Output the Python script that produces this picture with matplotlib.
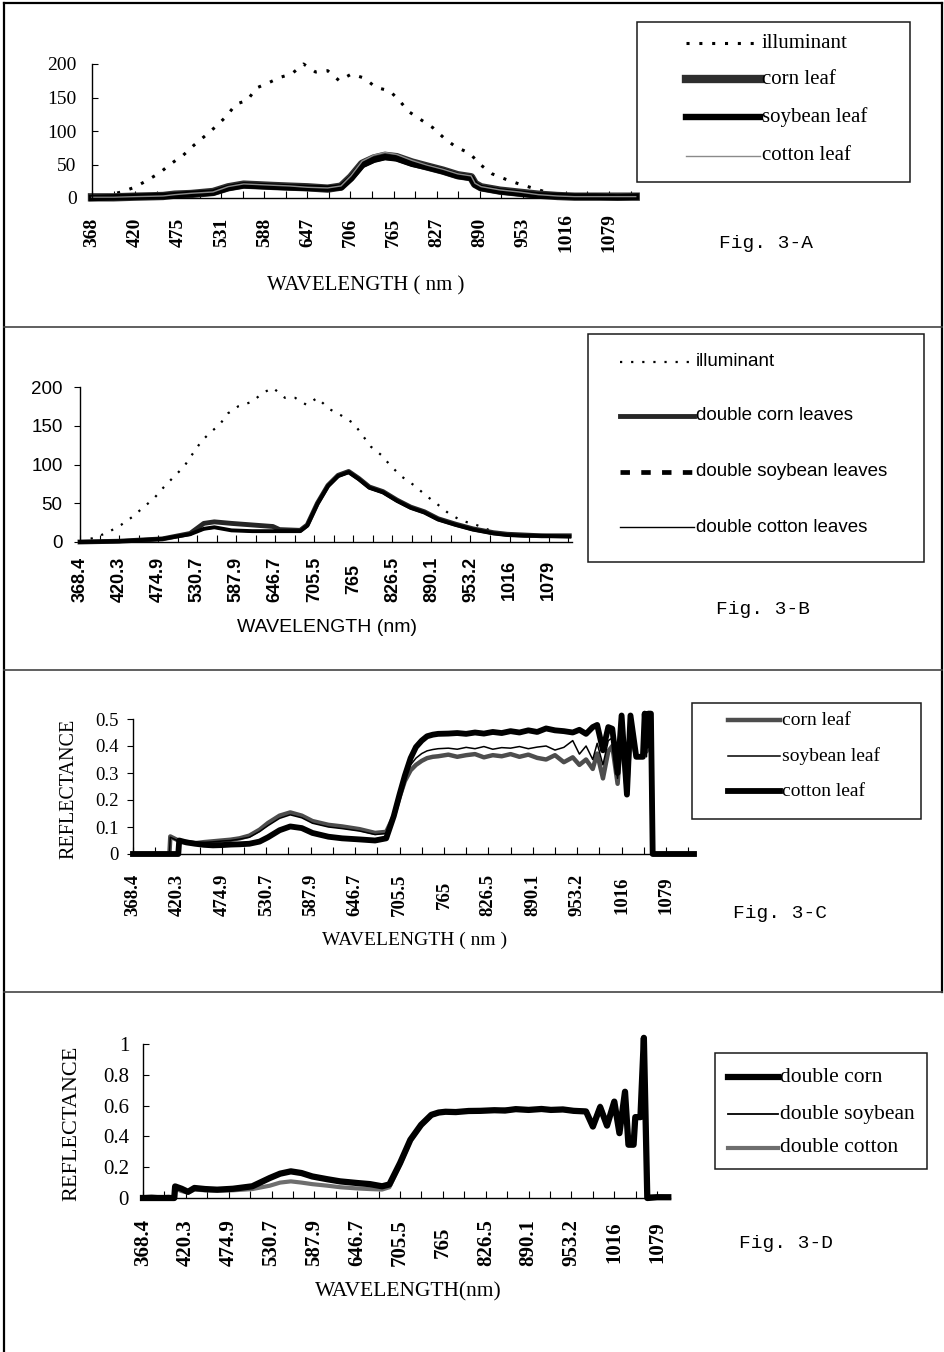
import numpy as np
import matplotlib
matplotlib.use('Agg')
import matplotlib.pyplot as plt
from matplotlib.lines import Line2D
from matplotlib.patches import Rectangle

# x values are positions on the category axis (1 unit = one labelled step)
labels_a = ['368', '420', '475', '531', '588', '647', '706', '765', '827', '890', '953', '1016', '1079']
labels_bcd = ['368.4', '420.3', '474.9', '530.7', '587.9', '646.7', '705.5', '765', '826.5', '890.1',
              '953.2', '1016', '1079']

# Fig. 3-A
a_x_illum = [0.0, 0.37, 0.68, 0.99, 1.30, 1.58, 1.83, 2.12, 2.37, 2.63, 2.88, 3.12, 3.34, 3.61, 3.81,
             4.10, 4.36, 4.63, 4.91, 5.19, 5.47, 5.74, 6.02, 6.32, 6.59, 6.91, 7.14, 7.35, 7.63, 7.91,
             8.18, 8.45, 8.76, 9.03, 9.29, 9.60, 9.91, 10.22, 10.53, 10.8]
a_illum = [0, 4, 9, 16, 27, 38, 51, 64, 79, 93, 107, 122, 140, 146, 164, 172, 180, 185, 200, 188,
           190, 175, 185, 179, 165, 160, 145, 129, 117, 105, 89, 76, 67, 49, 36, 28, 21, 15, 9, 5]
a_x = [0, 0.5, 1.0, 1.65, 1.92, 2.3, 2.81, 3.16, 3.52, 3.87, 4.2, 4.58, 5.0, 5.47, 5.78, 6.01, 6.27,
       6.54, 6.80, 7.07, 7.43, 7.78, 8.14, 8.49, 8.80, 8.89, 9.03, 9.47, 9.91, 10.36, 10.80, 11.2,
       11.69, 12.2, 12.62]
a_corn = [1, 1, 2, 3, 5, 6, 9, 16, 20, 19, 18, 17, 16, 14, 17, 31, 51, 59, 63, 61, 53, 47, 41, 34,
          31, 21, 16, 11, 8, 5, 3, 2, 2, 2, 2]
a_soy = [0, 1, 2, 3, 4, 6, 8, 15, 19, 18, 17, 16, 15, 14, 16, 29, 49, 57, 61, 59, 51, 46, 40, 33,
         30, 20, 15, 10, 7, 4, 3, 2, 2, 1, 2]
a_cotton = [1, 1, 2, 3, 5, 7, 9, 17, 21, 20, 19, 18, 16, 15, 18, 33, 55, 64, 68, 65, 56, 49, 43, 36,
            33, 22, 17, 12, 9, 5, 3, 2, 2, 2, 2]

# Fig. 3-B
b_x_illum = [0.0, 0.39, 0.70, 1.05, 1.33, 1.63, 1.89, 2.15, 2.42, 2.66, 2.86, 3.11, 3.35, 3.57, 3.79,
             4.05, 4.41, 4.67, 4.94, 5.25, 5.51, 5.80, 6.08, 6.37, 6.70, 7.01, 7.23, 7.45, 7.72, 7.98,
             8.25, 8.56, 8.86, 9.17, 9.44, 9.75, 10.15, 10.50, 10.85]
b_illum = [0, 6, 12, 22, 32, 45, 56, 71, 85, 97, 112, 130, 142, 151, 166, 175, 181, 192, 199, 186,
           186, 177, 186, 172, 163, 153, 138, 123, 112, 97, 84, 73, 60, 48, 37, 28, 22, 15, 11]
b_x = [0, 1.0, 2.11, 2.82, 3.17, 3.44, 3.88, 4.41, 4.94, 5.11, 5.64, 5.82, 6.08, 6.35, 6.61, 6.88,
       7.14, 7.41, 7.76, 8.12, 8.47, 8.82, 9.17, 9.62, 10.06, 10.59, 10.94, 11.38, 11.82, 12.53]
b_corn = [0, 1, 4, 11, 24, 26, 24, 22, 20, 16, 15, 22, 50, 73, 86, 91, 82, 71, 65, 54, 45, 39, 30,
          23, 17, 12, 10, 9, 8, 8]
b_soy = [0, 1, 4, 10, 17, 19, 15, 14, 14, 14, 14, 21, 49, 72, 85, 90, 81, 70, 64, 53, 44, 38, 29,
         22, 16, 11, 9, 8, 8, 7]
b_cotton = [0, 1, 4, 10, 16, 18, 15, 13, 13, 13, 14, 20, 48, 71, 84, 89, 80, 69, 63, 52, 44, 38, 29,
            22, 16, 11, 9, 8, 7, 7]

# Fig. 3-C
c_x = [0, 0.82, 0.84, 1.02, 1.04, 1.2, 1.4, 1.6, 1.8, 2.0, 2.2, 2.4, 2.62, 2.85, 3.04, 3.3, 3.54,
       3.8, 4.04, 4.4, 4.71, 5.1, 5.45, 5.7, 5.87, 6.0, 6.12, 6.25, 6.37, 6.5, 6.62, 6.75, 6.87, 7.1,
       7.3, 7.5, 7.7, 7.9, 8.1, 8.3, 8.5, 8.7, 8.9, 9.1, 9.3, 9.5, 9.7, 9.9, 10.05, 10.2, 10.35,
       10.45, 10.58, 10.7, 10.79, 10.91, 11.0, 11.12, 11.2, 11.33, 11.48, 11.52, 11.56, 11.6, 11.66,
       11.7, 12.63]
c_corn = [0, 0, 0.065, 0.05, 0.048, 0.045, 0.04, 0.044, 0.047, 0.05, 0.053, 0.058, 0.068, 0.09,
          0.115, 0.142, 0.154, 0.142, 0.122, 0.108, 0.102, 0.092, 0.078, 0.082, 0.14, 0.21, 0.27,
          0.31, 0.33, 0.345, 0.355, 0.36, 0.362, 0.368, 0.36, 0.366, 0.37, 0.358, 0.366, 0.362,
          0.37, 0.36, 0.368, 0.356, 0.35, 0.366, 0.34, 0.358, 0.33, 0.35, 0.315, 0.372, 0.28, 0.38,
          0.40, 0.26, 0.45, 0.23, 0.45, 0.36, 0.36, 0.5, 0.38, 0.5, 0.5, 0, 0]
c_soy = [0, 0, 0.062, 0.048, 0.047, 0.044, 0.042, 0.043, 0.045, 0.048, 0.05, 0.055, 0.062, 0.083,
         0.105, 0.132, 0.145, 0.134, 0.114, 0.1, 0.094, 0.085, 0.072, 0.076, 0.15, 0.22, 0.285,
         0.33, 0.355, 0.372, 0.382, 0.387, 0.39, 0.392, 0.388, 0.395, 0.39, 0.398, 0.388, 0.394,
         0.392, 0.398, 0.39, 0.396, 0.4, 0.385, 0.395, 0.42, 0.37, 0.4, 0.35, 0.41, 0.33, 0.42,
         0.43, 0.28, 0.48, 0.25, 0.48, 0.36, 0.36, 0.5, 0.36, 0.5, 0.5, 0, 0]
c_cotton = [0, 0, 0, 0, 0.05, 0.043, 0.038, 0.034, 0.032, 0.033, 0.035, 0.036, 0.038, 0.046,
            0.062, 0.088, 0.102, 0.096, 0.078, 0.064, 0.058, 0.054, 0.05, 0.058, 0.14, 0.22, 0.29,
            0.355, 0.396, 0.42, 0.436, 0.442, 0.445, 0.446, 0.448, 0.445, 0.45, 0.446, 0.452,
            0.448, 0.455, 0.45, 0.458, 0.452, 0.465, 0.458, 0.455, 0.45, 0.46, 0.445, 0.47, 0.478,
            0.384, 0.47, 0.464, 0.30, 0.513, 0.22, 0.513, 0.36, 0.36, 0.52, 0.4, 0.52, 0.52, 0, 0]

# Fig. 3-D
d_x = [0, 0.2, 0.4, 0.6, 0.73, 0.75, 0.9, 1.05, 1.2, 1.45, 1.73, 2.1, 2.55, 2.96, 3.2, 3.45, 3.7,
       3.95, 4.3, 4.6, 5.01, 5.3, 5.58, 5.75, 6.0, 6.24, 6.49, 6.73, 6.9, 7.06, 7.3, 7.6, 7.88, 8.2,
       8.45, 8.7, 9.0, 9.3, 9.52, 9.8, 10.05, 10.34, 10.5, 10.67, 10.83, 11.0, 11.12, 11.25, 11.33,
       11.45, 11.49, 11.61, 11.69, 11.77, 12.0, 12.26]
d_corn = [0, 0, 0, 0, 0, 0.075, 0.06, 0.04, 0.065, 0.058, 0.054, 0.06, 0.076, 0.13, 0.158, 0.173,
          0.162, 0.14, 0.122, 0.108, 0.097, 0.09, 0.076, 0.088, 0.227, 0.378, 0.475, 0.54, 0.555,
          0.56, 0.558, 0.565, 0.566, 0.57, 0.568, 0.577, 0.572, 0.578, 0.572, 0.575, 0.566, 0.562,
          0.464, 0.59, 0.47, 0.626, 0.421, 0.69, 0.346, 0.346, 0.525, 0.525, 1.04, 0, 0.005, 0.005]
d_soy = [0, 0, 0, 0, 0, 0.07, 0.055, 0.045, 0.06, 0.055, 0.052, 0.058, 0.072, 0.125, 0.152, 0.168,
         0.158, 0.136, 0.118, 0.104, 0.094, 0.087, 0.074, 0.085, 0.22, 0.37, 0.47, 0.535, 0.55,
         0.556, 0.553, 0.56, 0.562, 0.566, 0.563, 0.572, 0.568, 0.574, 0.566, 0.57, 0.56, 0.555,
         0.47, 0.58, 0.48, 0.61, 0.43, 0.67, 0.35, 0.35, 0.52, 0.52, 1.0, 0, 0.004, 0.004]
d_cotton = [0.005, 0.01, 0.004, 0.008, 0, 0.06, 0.045, 0.035, 0.055, 0.05, 0.048, 0.05, 0.058, 0.08,
            0.1, 0.108, 0.1, 0.09, 0.08, 0.07, 0.062, 0.058, 0.055, 0.07, 0.215, 0.37, 0.47, 0.535,
            0.552, 0.558, 0.56, 0.562, 0.57, 0.566, 0.574, 0.575, 0.57, 0.575, 0.57, 0.572, 0.57,
            0.565, 0.47, 0.6, 0.48, 0.62, 0.43, 0.68, 0.35, 0.35, 0.53, 0.53, 1.02, 0.01, 0.01, 0.005]

SERIF = 'Liberation Serif'
SANS = 'Liberation Sans'
MONO = 'Liberation Mono'

W, H = 944, 1352
fig = plt.figure(figsize=(W / 100, H / 100), dpi=100)


def fx(x):
    return x / W


def fy(y):
    return 1 - y / H


def add_axes(x0, y0, x1, y1):
    return fig.add_axes([fx(x0), fy(y1), (x1 - x0) / W, (y1 - y0) / H])


def style_axes(ax, xmax, ymax, yticks, ylabels, xlabels, fam, yfs, xfs, xpad, ypad, ydir):
    ax.set_xlim(0, xmax)
    ax.set_ylim(0, ymax)
    ax.spines['top'].set_visible(False)
    ax.spines['right'].set_visible(False)
    ax.spines['left'].set_linewidth(1.0)
    ax.spines['bottom'].set_linewidth(1.0)
    ax.set_xticks(range(len(xlabels)))
    ax.set_xticklabels(xlabels, rotation=90, va='center', family=fam, fontsize=xfs, fontweight='bold')
    ax.set_xticks(np.arange(0.5, xmax, 1.0), minor=True)
    ax.tick_params(axis='x', which='both', direction='in', length=5, width=0.8, pad=xpad)
    ax.set_yticks(yticks)
    ax.set_yticklabels(ylabels, family=fam, fontsize=yfs)
    ax.tick_params(axis='y', direction=ydir, length=4, width=0.8, pad=ypad)


def legend_box(x0, y0, x1, y1, rows, lx0, lx1, tx, fam, fs):
    fig.add_artist(Rectangle((fx(x0), fy(y1)), (x1 - x0) / W, (y1 - y0) / H,
                             transform=fig.transFigure, fill=False, ec='#1a1a1a', lw=1.1))
    for y, label, st in rows:
        fig.add_artist(Line2D([fx(lx0), fx(lx1)], [fy(y), fy(y)], transform=fig.transFigure, **st))
        fig.text(fx(tx), fy(y), label, ha='left', va='center', family=fam, fontsize=fs)


# line styles
A_illum = dict(color='black', lw=2.2, ls=(0, (1, 3.2)))
A_corn = dict(color='#2e2e2e', lw=6.0)
A_soy = dict(color='black', lw=4.6)
A_cot = dict(color='#8a8a8a', lw=1.0)
B_illum = dict(color='black', lw=1.6, ls=(0, (1, 4)))
B_corn = dict(color='#262626', lw=3.5)
B_soy = dict(color='black', lw=2.8)
B_soy_leg = dict(color='black', lw=3.4, ls=(0, (2, 2.4)))
B_cot = dict(color='black', lw=1.0)
C_corn = dict(color='#4d4d4d', lw=3.2)
C_soy = dict(color='black', lw=1.1)
C_cot = dict(color='black', lw=4.2)
D_corn = dict(color='black', lw=4.5)
D_soy = dict(color='black', lw=1.3)
D_cot = dict(color='#6e6e6e', lw=3.0)

# frame and dividers
frame = dict(color='black', lw=1.6, transform=fig.transFigure)
fig.add_artist(Line2D([fx(4), fx(4)], [fy(3), fy(1352)], **frame))
fig.add_artist(Line2D([fx(4), fx(942)], [fy(3), fy(3)], **frame))
fig.add_artist(Line2D([fx(942), fx(942)], [fy(3), fy(992)], **frame))
for yy in (327, 670, 992):
    fig.add_artist(Line2D([fx(4), fx(942)], [fy(yy), fy(yy)], color='#444444', lw=1.2,
                          transform=fig.transFigure))

# ---- Fig. 3-A ----
ax = add_axes(92, 64, 637, 198)
ax.plot(a_x_illum, a_illum, clip_on=False, **A_illum)
ax.plot(a_x, a_corn, clip_on=False, **A_corn)
ax.plot(a_x, a_soy, clip_on=False, **A_soy)
ax.plot(a_x, a_cotton, clip_on=False, **A_cot)
style_axes(ax, 12.65, 200, [0, 50, 100, 150, 200], ['0', '50', '100', '150', '200'], labels_a,
           SERIF, 14, 14, 25, 11, 'in')
fig.text(fx(366), fy(286), 'WAVELENGTH ( nm )', ha='center', va='center', family=SERIF, fontsize=15)
fig.text(fx(719), fy(244), 'Fig. 3-A', ha='left', va='center', family=MONO, fontsize=14)
legend_box(637, 22, 910, 182,
           [(43, 'illuminant', A_illum), (79, 'corn leaf', A_corn),
            (117, 'soybean leaf', A_soy), (156, 'cotton leaf', A_cot)],
           686, 760, 762, SERIF, 15)

# ---- Fig. 3-B ----
ax = add_axes(80, 387, 572, 542)
ax.plot(b_x_illum, b_illum, clip_on=False, **B_illum)
ax.plot(b_x, b_corn, clip_on=False, **B_corn)
ax.plot(b_x, b_soy, clip_on=False, **B_soy)
ax.plot(b_x, b_cotton, clip_on=False, **B_cot)
style_axes(ax, 12.6, 200, [0, 50, 100, 150, 200], ['0', '50', '100', '150', '200'], labels_bcd,
           SANS, 13.5, 13, 27, 8.5, 'out')
fig.text(fx(327), fy(627), 'WAVELENGTH (nm)', ha='center', va='center', family=SANS, fontsize=14)
fig.text(fx(716), fy(610), 'Fig. 3-B', ha='left', va='center', family=MONO, fontsize=14)
legend_box(588, 334, 924, 562,
           [(362, 'illuminant', B_illum), (416, 'double corn leaves', B_corn),
            (472, 'double soybean leaves', B_soy_leg), (527, 'double cotton leaves', B_cot)],
           620, 694, 696, SANS, 13.5)

# ---- Fig. 3-C ----
ax = add_axes(133, 719, 694, 854)
ax.plot(c_x, c_corn, clip_on=False, **C_corn)
ax.plot(c_x, c_soy, clip_on=False, **C_soy)
ax.plot(c_x, c_cotton, clip_on=False, **C_cot)
style_axes(ax, 12.63, 0.5, [0, 0.1, 0.2, 0.3, 0.4, 0.5], ['0', '0.1', '0.2', '0.3', '0.4', '0.5'],
           labels_bcd, SERIF, 13.5, 13.5, 29.5, 6.5, 'out')
fig.text(fx(415), fy(940), 'WAVELENGTH ( nm )', ha='center', va='center', family=SERIF, fontsize=14)
fig.text(fx(69), fy(789), 'REFLECTANCE', ha='center', va='center', rotation=90, family=SERIF,
         fontsize=14.5)
fig.text(fx(733), fy(914), 'Fig. 3-C', ha='left', va='center', family=MONO, fontsize=14)
legend_box(692, 703, 921, 819,
           [(720, 'corn leaf', C_corn), (756, 'soybean leaf', C_soy), (791, 'cotton leaf', C_cot)],
           728, 780, 782, SERIF, 14)

# ---- Fig. 3-D ----
ax = add_axes(143, 1044, 670, 1198)
ax.plot(d_x, d_cotton, clip_on=False, **D_cot)
ax.plot(d_x, d_corn, clip_on=False, **D_corn)
ax.plot(d_x, d_soy, clip_on=False, **D_soy)
style_axes(ax, 12.3, 1.0, [0, 0.2, 0.4, 0.6, 0.8, 1.0], ['0', '0.2', '0.4', '0.6', '0.8', '1'],
           labels_bcd, SERIF, 15, 15, 32, 10, 'in')
fig.text(fx(408), fy(1292), 'WAVELENGTH(nm)', ha='center', va='center', family=SERIF, fontsize=15.5)
fig.text(fx(72), fy(1123), 'REFLECTANCE', ha='center', va='center', rotation=90, family=SERIF,
         fontsize=16)
fig.text(fx(739), fy(1244), 'Fig. 3-D', ha='left', va='center', family=MONO, fontsize=14)
legend_box(715, 1053, 927, 1169,
           [(1077, 'double corn', D_corn), (1114, 'double soybean', D_soy),
            (1148, 'double cotton', D_cot)],
           728, 778, 780, SERIF, 15.5)

fig.savefig('out.png', dpi=100)
